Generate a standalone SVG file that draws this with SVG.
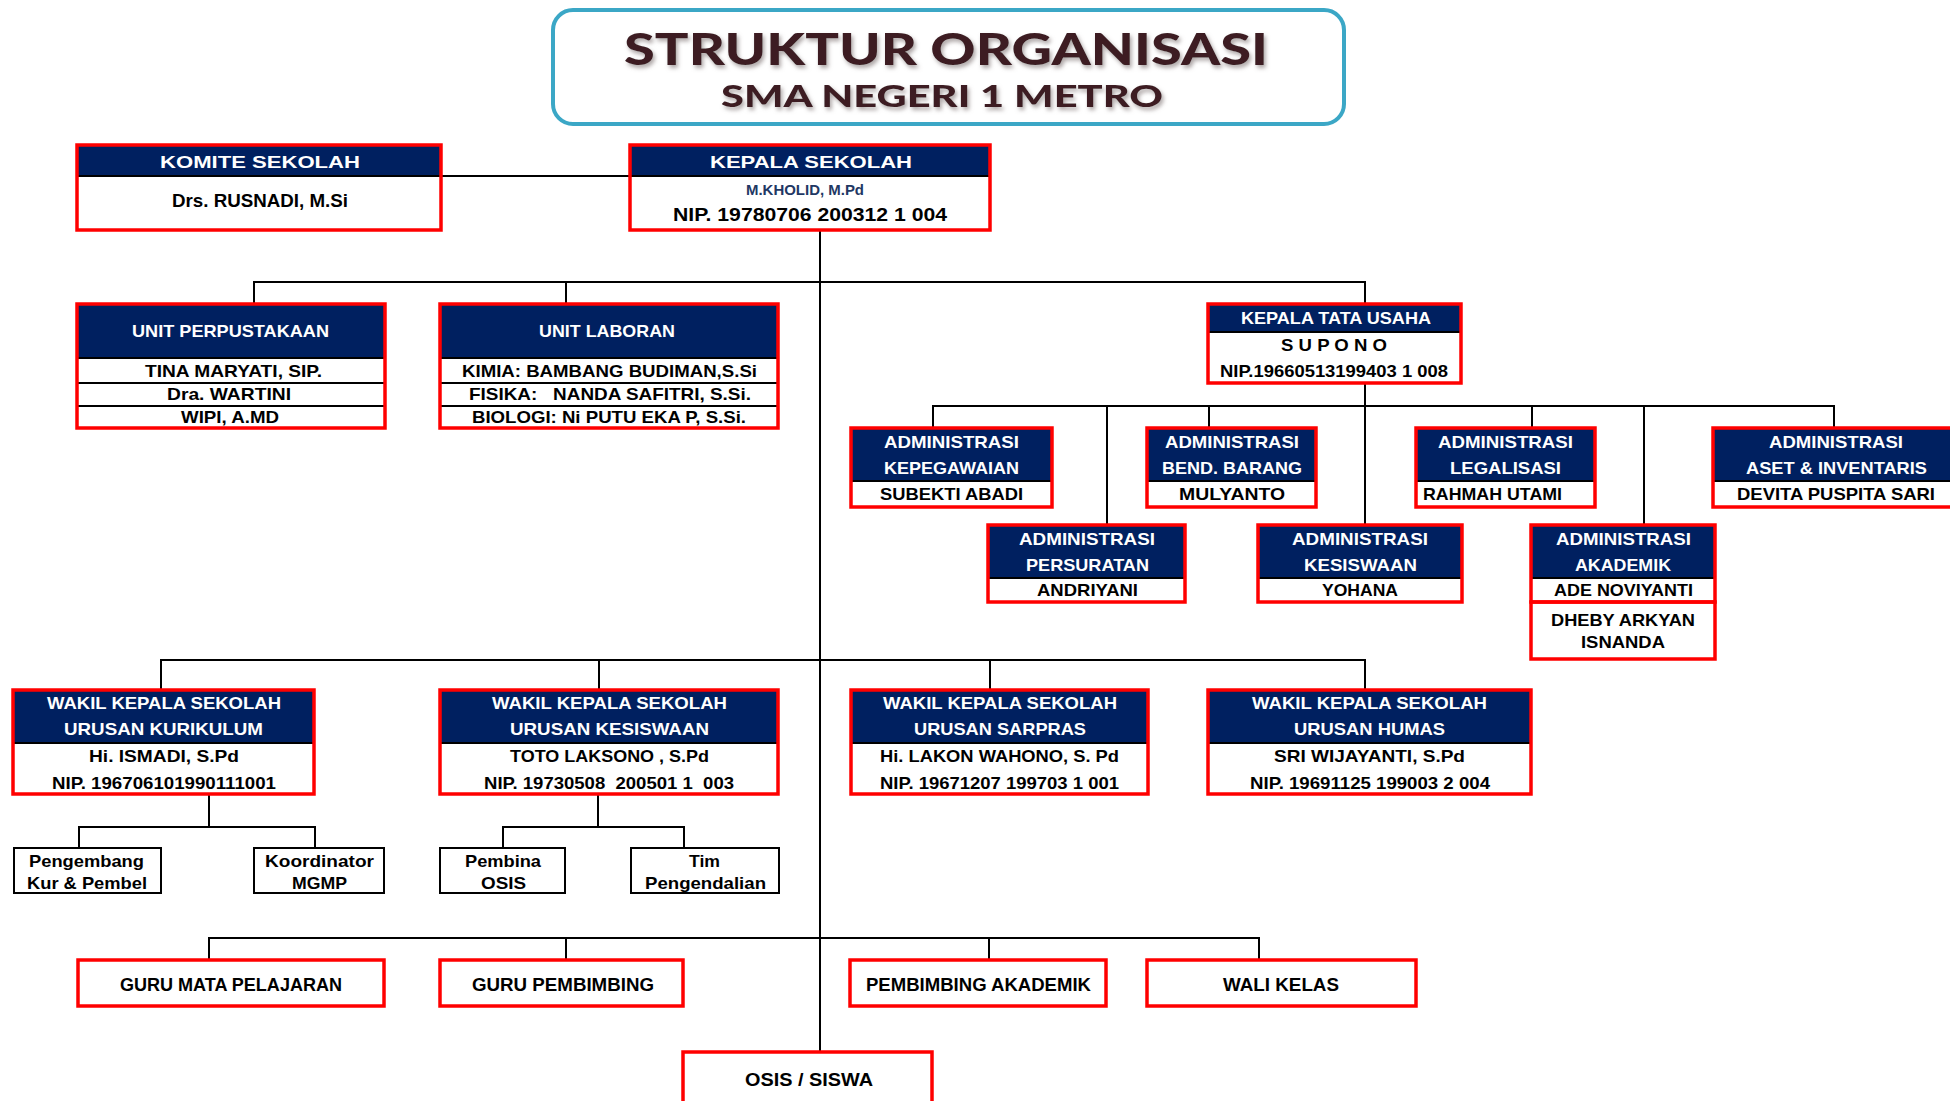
<svg xmlns="http://www.w3.org/2000/svg" width="1950" height="1101" viewBox="0 0 1950 1101">
<defs>
<filter id="sh" x="-5%" y="-20%" width="110%" height="150%"><feDropShadow dx="2" dy="3" stdDeviation="2" flood-color="#8a8080" flood-opacity="0.7"/></filter>
</defs>
<style>
.hdr{fill:#002060}
.bg{fill:#ffffff}
.bx{fill:none;stroke:#ff0000;stroke-width:3.5}
.sep{stroke:#000;stroke-width:2}
.sub{fill:#ffffff;stroke:#000;stroke-width:2}
.conn path{fill:none;stroke:#000;stroke-width:2}
text{font-family:"Liberation Sans",Arial,sans-serif;font-weight:bold;white-space:pre}
.w{fill:#ffffff;font-size:17px}
.k{fill:#000;font-size:17px}
.k17{fill:#000;font-size:18px}
.ttl{font-family:Lato,"Open Sans",sans-serif;font-weight:900;fill:#3c1d22}
</style>
<rect width="1950" height="1101" fill="#ffffff"/>

<g id="connectors" class="conn">
<path d="M441 176 H630"/>
<path d="M820 230 V1052"/>
<path d="M254 304 V282 H1365 V304 M566 282 V304"/>
<path d="M1365 383 V525 M933 428 V406 H1834 V428 M1107 406 V525 M1209 406 V428 M1532 406 V428 M1644 406 V525"/>
<path d="M161 690 V660 H1365 V690 M599 660 V690 M990 660 V690"/>
<path d="M209 794 V827 M79 848 V827 H315 V848"/>
<path d="M598 794 V827 M503 848 V827 H684 V848"/>
<path d="M209 960 V938 H1259 V960 M566 938 V960 M989 938 V960"/>
</g>

<g id="title">
<rect x="553" y="10" width="791" height="114" rx="20" fill="#fff" stroke="#3ba7c6" stroke-width="4"/>
<text class="ttl" x="624" y="65" font-size="44" textLength="644" lengthAdjust="spacingAndGlyphs" filter="url(#sh)">STRUKTUR ORGANISASI</text>
<text class="ttl" x="721" y="107" font-size="30" textLength="442" lengthAdjust="spacingAndGlyphs" filter="url(#sh)">SMA NEGERI 1 METRO</text>
</g>

<g id="komite">
<rect class="bg" x="77" y="145" width="364" height="85"/>
<rect class="hdr" x="77" y="145" width="364" height="31"/>
<line class="sep" x1="77" y1="176" x2="441" y2="176"/>
<rect class="bx" x="77" y="145" width="364" height="85"/>
<text class="w" x="160" y="168" font-size="20" textLength="200" lengthAdjust="spacingAndGlyphs">KOMITE SEKOLAH</text>
<text class="k17" x="172" y="207" textLength="176" lengthAdjust="spacingAndGlyphs">Drs. RUSNADI, M.Si</text>
</g>

<g id="kepala">
<rect class="bg" x="630" y="145" width="360" height="85"/>
<rect class="hdr" x="630" y="145" width="360" height="31"/>
<line class="sep" x1="630" y1="176" x2="990" y2="176"/>
<rect class="bx" x="630" y="145" width="360" height="85"/>
<text class="w" x="710" y="168" font-size="21" textLength="202" lengthAdjust="spacingAndGlyphs">KEPALA SEKOLAH</text>
<text x="746" y="195" font-size="15" fill="#1f3864" textLength="118" lengthAdjust="spacingAndGlyphs">M.KHOLID, M.Pd</text>
<text class="k17" x="673" y="221" textLength="274" lengthAdjust="spacingAndGlyphs">NIP. 19780706 200312 1 004</text>
</g>

<g id="unit-perpustakaan">
<rect class="bg" x="77" y="304" width="308" height="124"/>
<rect class="hdr" x="77" y="304" width="308" height="54"/>
<line class="sep" x1="77" y1="358" x2="385" y2="358"/>
<line class="sep" x1="77" y1="383" x2="385" y2="383"/>
<line class="sep" x1="77" y1="406" x2="385" y2="406"/>
<rect class="bx" x="77" y="304" width="308" height="124"/>
<text class="w" x="132" y="337" textLength="197" lengthAdjust="spacingAndGlyphs">UNIT PERPUSTAKAAN</text>
<text class="k" x="145" y="377" textLength="177" lengthAdjust="spacingAndGlyphs">TINA MARYATI, SIP.</text>
<text class="k" x="167" y="400" textLength="124" lengthAdjust="spacingAndGlyphs">Dra. WARTINI</text>
<text class="k" x="181" y="423" textLength="98" lengthAdjust="spacingAndGlyphs">WIPI, A.MD</text>
</g>

<g id="unit-laboran">
<rect class="bg" x="440" y="304" width="338" height="124"/>
<rect class="hdr" x="440" y="304" width="338" height="54"/>
<line class="sep" x1="440" y1="358" x2="778" y2="358"/>
<line class="sep" x1="440" y1="383" x2="778" y2="383"/>
<line class="sep" x1="440" y1="406" x2="778" y2="406"/>
<rect class="bx" x="440" y="304" width="338" height="124"/>
<text class="w" x="539" y="337" textLength="136" lengthAdjust="spacingAndGlyphs">UNIT LABORAN</text>
<text class="k" x="462" y="377" textLength="295" lengthAdjust="spacingAndGlyphs">KIMIA: BAMBANG BUDIMAN,S.Si</text>
<text class="k" x="469" y="400" textLength="282" lengthAdjust="spacingAndGlyphs">FISIKA:   NANDA SAFITRI, S.Si.</text>
<text class="k" x="472" y="423" textLength="274" lengthAdjust="spacingAndGlyphs">BIOLOGI: Ni PUTU EKA P, S.Si.</text>
</g>

<g id="kepala-tata-usaha">
<rect class="bg" x="1208" y="304" width="253" height="79"/>
<rect class="hdr" x="1208" y="304" width="253" height="28"/>
<line class="sep" x1="1208" y1="332" x2="1461" y2="332"/>
<rect class="bx" x="1208" y="304" width="253" height="79"/>
<text class="w" x="1241" y="324" textLength="190" lengthAdjust="spacingAndGlyphs">KEPALA TATA USAHA</text>
<text class="k" x="1281" y="351" textLength="106" lengthAdjust="spacingAndGlyphs">S U P O N O</text>
<text class="k" x="1220" y="377" textLength="228" lengthAdjust="spacingAndGlyphs">NIP.19660513199403 1 008</text>
</g>

<g id="adm-kepegawaian">
<rect class="bg" x="851" y="428" width="201" height="79"/>
<rect class="hdr" x="851" y="428" width="201" height="53"/>
<line class="sep" x1="851" y1="481" x2="1052" y2="481"/>
<rect class="bx" x="851" y="428" width="201" height="79"/>
<text class="w" x="884" y="448" textLength="135" lengthAdjust="spacingAndGlyphs">ADMINISTRASI</text>
<text class="w" x="884" y="474" textLength="135" lengthAdjust="spacingAndGlyphs">KEPEGAWAIAN</text>
<text class="k" x="880" y="500" textLength="143" lengthAdjust="spacingAndGlyphs">SUBEKTI ABADI</text>
</g>

<g id="adm-bend-barang">
<rect class="bg" x="1147" y="428" width="169" height="79"/>
<rect class="hdr" x="1147" y="428" width="169" height="53"/>
<line class="sep" x1="1147" y1="481" x2="1316" y2="481"/>
<rect class="bx" x="1147" y="428" width="169" height="79"/>
<text class="w" x="1165" y="448" textLength="134" lengthAdjust="spacingAndGlyphs">ADMINISTRASI</text>
<text class="w" x="1162" y="474" textLength="140" lengthAdjust="spacingAndGlyphs">BEND. BARANG</text>
<text class="k" x="1179" y="500" textLength="106" lengthAdjust="spacingAndGlyphs">MULYANTO</text>
</g>

<g id="adm-legalisasi">
<rect class="bg" x="1416" y="428" width="179" height="79"/>
<rect class="hdr" x="1416" y="428" width="179" height="53"/>
<line class="sep" x1="1416" y1="481" x2="1595" y2="481"/>
<rect class="bx" x="1416" y="428" width="179" height="79"/>
<text class="w" x="1438" y="448" textLength="135" lengthAdjust="spacingAndGlyphs">ADMINISTRASI</text>
<text class="w" x="1450" y="474" textLength="111" lengthAdjust="spacingAndGlyphs">LEGALISASI</text>
<text class="k" x="1423" y="500" textLength="139" lengthAdjust="spacingAndGlyphs">RAHMAH UTAMI</text>
</g>

<g id="adm-aset">
<rect class="bg" x="1713" y="428" width="240" height="79"/>
<rect class="hdr" x="1713" y="428" width="240" height="53"/>
<line class="sep" x1="1713" y1="481" x2="1953" y2="481"/>
<rect class="bx" x="1713" y="428" width="240" height="79"/>
<text class="w" x="1769" y="448" textLength="134" lengthAdjust="spacingAndGlyphs">ADMINISTRASI</text>
<text class="w" x="1746" y="474" textLength="181" lengthAdjust="spacingAndGlyphs">ASET &amp; INVENTARIS</text>
<text class="k" x="1737" y="500" textLength="198" lengthAdjust="spacingAndGlyphs">DEVITA PUSPITA SARI</text>
</g>

<g id="adm-persuratan">
<rect class="bg" x="988" y="525" width="197" height="77"/>
<rect class="hdr" x="988" y="525" width="197" height="53"/>
<line class="sep" x1="988" y1="578" x2="1185" y2="578"/>
<rect class="bx" x="988" y="525" width="197" height="77"/>
<text class="w" x="1019" y="545" textLength="136" lengthAdjust="spacingAndGlyphs">ADMINISTRASI</text>
<text class="w" x="1026" y="571" textLength="123" lengthAdjust="spacingAndGlyphs">PERSURATAN</text>
<text class="k" x="1037" y="596" textLength="101" lengthAdjust="spacingAndGlyphs">ANDRIYANI</text>
</g>

<g id="adm-kesiswaan">
<rect class="bg" x="1258" y="525" width="204" height="77"/>
<rect class="hdr" x="1258" y="525" width="204" height="53"/>
<line class="sep" x1="1258" y1="578" x2="1462" y2="578"/>
<rect class="bx" x="1258" y="525" width="204" height="77"/>
<text class="w" x="1292" y="545" textLength="136" lengthAdjust="spacingAndGlyphs">ADMINISTRASI</text>
<text class="w" x="1304" y="571" textLength="113" lengthAdjust="spacingAndGlyphs">KESISWAAN</text>
<text class="k" x="1322" y="596" textLength="76" lengthAdjust="spacingAndGlyphs">YOHANA</text>
</g>

<g id="adm-akademik">
<rect class="bg" x="1531" y="525" width="184" height="134"/>
<rect class="hdr" x="1531" y="525" width="184" height="53"/>
<line class="sep" x1="1531" y1="578" x2="1715" y2="578"/>
<rect class="bx" x="1531" y="525" width="184" height="77"/>
<rect class="bx" x="1531" y="602" width="184" height="57"/>
<text class="w" x="1556" y="545" textLength="135" lengthAdjust="spacingAndGlyphs">ADMINISTRASI</text>
<text class="w" x="1575" y="571" textLength="96" lengthAdjust="spacingAndGlyphs">AKADEMIK</text>
<text class="k" x="1554" y="596" textLength="139" lengthAdjust="spacingAndGlyphs">ADE NOVIYANTI</text>
<text class="k" x="1551" y="626" textLength="144" lengthAdjust="spacingAndGlyphs">DHEBY ARKYAN</text>
<text class="k" x="1581" y="648" textLength="84" lengthAdjust="spacingAndGlyphs">ISNANDA</text>
</g>

<g id="wakasek-kurikulum">
<rect class="bg" x="13" y="690" width="301" height="104"/>
<rect class="hdr" x="13" y="690" width="301" height="53"/>
<line class="sep" x1="13" y1="743" x2="314" y2="743"/>
<rect class="bx" x="13" y="690" width="301" height="104"/>
<text class="w" x="47" y="709" textLength="234" lengthAdjust="spacingAndGlyphs">WAKIL KEPALA SEKOLAH</text>
<text class="w" x="64" y="735" textLength="199" lengthAdjust="spacingAndGlyphs">URUSAN KURIKULUM</text>
<text class="k" x="89" y="762" textLength="150" lengthAdjust="spacingAndGlyphs">Hi. ISMADI, S.Pd</text>
<text class="k" x="52" y="789" textLength="224" lengthAdjust="spacingAndGlyphs">NIP. 196706101990111001</text>
</g>

<g id="wakasek-kesiswaan">
<rect class="bg" x="440" y="690" width="338" height="104"/>
<rect class="hdr" x="440" y="690" width="338" height="53"/>
<line class="sep" x1="440" y1="743" x2="778" y2="743"/>
<rect class="bx" x="440" y="690" width="338" height="104"/>
<text class="w" x="492" y="709" textLength="235" lengthAdjust="spacingAndGlyphs">WAKIL KEPALA SEKOLAH</text>
<text class="w" x="510" y="735" textLength="199" lengthAdjust="spacingAndGlyphs">URUSAN KESISWAAN</text>
<text class="k" x="510" y="762" textLength="199" lengthAdjust="spacingAndGlyphs">TOTO LAKSONO , S.Pd</text>
<text class="k" x="484" y="789" textLength="250" lengthAdjust="spacingAndGlyphs">NIP. 19730508  200501 1  003</text>
</g>

<g id="wakasek-sarpras">
<rect class="bg" x="851" y="690" width="297" height="104"/>
<rect class="hdr" x="851" y="690" width="297" height="53"/>
<line class="sep" x1="851" y1="743" x2="1148" y2="743"/>
<rect class="bx" x="851" y="690" width="297" height="104"/>
<text class="w" x="883" y="709" textLength="234" lengthAdjust="spacingAndGlyphs">WAKIL KEPALA SEKOLAH</text>
<text class="w" x="914" y="735" textLength="172" lengthAdjust="spacingAndGlyphs">URUSAN SARPRAS</text>
<text class="k" x="880" y="762" textLength="239" lengthAdjust="spacingAndGlyphs">Hi. LAKON WAHONO, S. Pd</text>
<text class="k" x="880" y="789" textLength="239" lengthAdjust="spacingAndGlyphs">NIP. 19671207 199703 1 001</text>
</g>

<g id="wakasek-humas">
<rect class="bg" x="1208" y="690" width="323" height="104"/>
<rect class="hdr" x="1208" y="690" width="323" height="53"/>
<line class="sep" x1="1208" y1="743" x2="1531" y2="743"/>
<rect class="bx" x="1208" y="690" width="323" height="104"/>
<text class="w" x="1252" y="709" textLength="235" lengthAdjust="spacingAndGlyphs">WAKIL KEPALA SEKOLAH</text>
<text class="w" x="1294" y="735" textLength="151" lengthAdjust="spacingAndGlyphs">URUSAN HUMAS</text>
<text class="k" x="1274" y="762" textLength="191" lengthAdjust="spacingAndGlyphs">SRI WIJAYANTI, S.Pd</text>
<text class="k" x="1250" y="789" textLength="240" lengthAdjust="spacingAndGlyphs">NIP. 19691125 199003 2 004</text>
</g>

<g id="pengembang">
<rect class="sub" x="14" y="848" width="147" height="45"/>
<text class="k" x="29" y="867" textLength="115" lengthAdjust="spacingAndGlyphs">Pengembang</text>
<text class="k" x="27" y="889" textLength="120" lengthAdjust="spacingAndGlyphs">Kur &amp; Pembel</text>
</g>
<g id="koordinator">
<rect class="sub" x="254" y="848" width="130" height="45"/>
<text class="k" x="265" y="867" textLength="109" lengthAdjust="spacingAndGlyphs">Koordinator</text>
<text class="k" x="292" y="889" textLength="55" lengthAdjust="spacingAndGlyphs">MGMP</text>
</g>
<g id="pembina">
<rect class="sub" x="440" y="848" width="125" height="45"/>
<text class="k" x="465" y="867" textLength="76" lengthAdjust="spacingAndGlyphs">Pembina</text>
<text class="k" x="481" y="889" textLength="45" lengthAdjust="spacingAndGlyphs">OSIS</text>
</g>
<g id="tim">
<rect class="sub" x="631" y="848" width="148" height="45"/>
<text class="k" x="689" y="867" textLength="31" lengthAdjust="spacingAndGlyphs">Tim</text>
<text class="k" x="645" y="889" textLength="121" lengthAdjust="spacingAndGlyphs">Pengendalian</text>
</g>

<g id="guru-mapel">
<rect class="bg" x="78" y="960" width="306" height="46"/>
<rect class="bx" x="78" y="960" width="306" height="46"/>
<text class="k17" x="120" y="991" textLength="222" lengthAdjust="spacingAndGlyphs">GURU MATA PELAJARAN</text>
</g>
<g id="guru-pembimbing">
<rect class="bg" x="440" y="960" width="243" height="46"/>
<rect class="bx" x="440" y="960" width="243" height="46"/>
<text class="k17" x="472" y="991" textLength="182" lengthAdjust="spacingAndGlyphs">GURU PEMBIMBING</text>
</g>
<g id="pembimbing-akademik">
<rect class="bg" x="850" y="960" width="256" height="46"/>
<rect class="bx" x="850" y="960" width="256" height="46"/>
<text class="k17" x="866" y="991" textLength="225" lengthAdjust="spacingAndGlyphs">PEMBIMBING AKADEMIK</text>
</g>
<g id="wali-kelas">
<rect class="bg" x="1147" y="960" width="269" height="46"/>
<rect class="bx" x="1147" y="960" width="269" height="46"/>
<text class="k17" x="1223" y="991" textLength="116" lengthAdjust="spacingAndGlyphs">WALI KELAS</text>
</g>
<g id="osis-siswa">
<rect class="bg" x="683" y="1052" width="249" height="70"/>
<rect class="bx" x="683" y="1052" width="249" height="70"/>
<text class="k17" x="745" y="1086" textLength="128" lengthAdjust="spacingAndGlyphs">OSIS / SISWA</text>
</g>
</svg>
